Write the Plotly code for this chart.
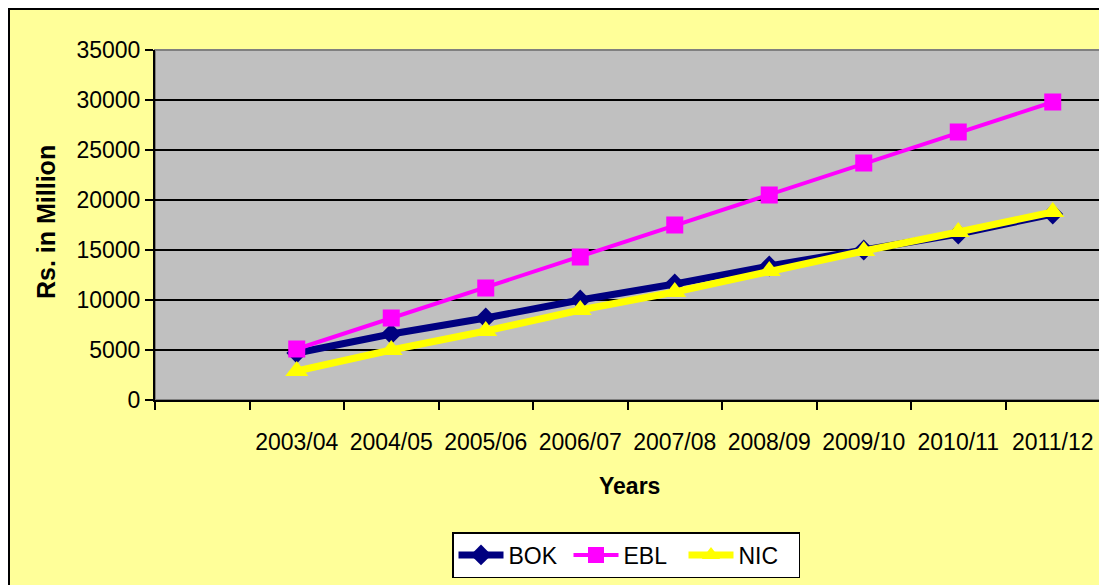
import plotly.graph_objects as go

categories = [" ", "2003/04", "2004/05", "2005/06", "2006/07", "2007/08",
              "2008/09", "2009/10", "2010/11", "2011/12"]
years = ["2003/04", "2004/05", "2005/06", "2006/07", "2007/08",
         "2008/09", "2009/10", "2010/11", "2011/12"]
bok = [4700, 6600, 8200, 10000, 11600, 13400, 15000, 16600, 18600]
ebl = [5100, 8200, 11200, 14300, 17500, 20500, 23700, 26800, 29800]
nic = [2900, 5000, 6900, 9000, 10800, 12900, 14900, 16800, 18800]

FONT = "Liberation Sans, Arial, sans-serif"
OFF = 8  # page body margin
W, H = 1107 - OFF, 585 - OFF
L, R, T, B = 155 - OFF, 7, 50 - OFF, 185
PW, PH = W - L - R, H - T - B


def xp(px):
    # px given in page coordinates
    return (px - OFF - L) / PW


def yp(py):
    return (H - B - (py - OFF)) / PH


fig = go.Figure()
fig.add_trace(go.Scatter(
    x=years, y=bok, name="BOK", mode="lines+markers",
    line=dict(color="#000080", width=7),
    marker=dict(symbol="diamond", size=16, color="#000080")))
fig.add_trace(go.Scatter(
    x=years, y=ebl, name="EBL", mode="lines+markers",
    line=dict(color="#FF00FF", width=4),
    marker=dict(symbol="square", size=17, color="#FF00FF")))
fig.add_trace(go.Scatter(
    x=years, y=nic, name="NIC", mode="lines+markers",
    line=dict(color="#FFFF00", width=7),
    marker=dict(symbol="triangle-up", size=20, color="#FFFF00")))

shapes = [
    dict(type="rect", xref="x domain", yref="y domain", x0=0, x1=1, y0=0, y1=1,
         line=dict(color="#808080", width=2), fillcolor="rgba(0,0,0,0)", layer="below"),
    dict(type="rect", xref="paper", yref="paper",
         x0=xp(9), x1=xp(1120), y0=yp(600), y1=yp(9),
         line=dict(color="black", width=2), fillcolor="rgba(0,0,0,0)", layer="above"),
]

annotations = [
    dict(text="<b>Years</b>", xref="paper", yref="paper", x=xp(629), y=yp(486),
         showarrow=False, font=dict(family=FONT, size=23, color="black"),
         xanchor="center", yanchor="middle"),
    dict(text="<b>Rs. in Million</b>", xref="paper", yref="paper", x=xp(46), y=yp(222),
         showarrow=False, textangle=-90, font=dict(family=FONT, size=25, color="black"),
         xanchor="center", yanchor="middle"),
]

fig.update_layout(
    width=W, height=H,
    margin=dict(l=L, r=R, t=T, b=B),
    paper_bgcolor="#FFFF99",
    plot_bgcolor="#C0C0C0",
    font=dict(family=FONT, size=23, color="black"),
    showlegend=True,
    legend=dict(orientation="h", x=xp(626), y=yp(532), xanchor="center", yanchor="top",
                bgcolor="white", bordercolor="black", borderwidth=1.5,
                font=dict(family=FONT, size=23, color="black"),
                itemwidth=45, entrywidth=55, tracegroupgap=0),
    shapes=shapes,
    annotations=annotations,
    xaxis=dict(type="category", categoryorder="array", categoryarray=categories,
               tickvals=categories, ticktext=categories,
               range=[-0.5, 9.5], tickson="boundaries", ticks="outside", ticklen=8,
               tickwidth=1.5, tickcolor="black", showgrid=False, showline=True,
               linecolor="black", linewidth=2, ticklabelstandoff=20,
               tickfont=dict(family=FONT, size=23, color="black"), zeroline=False),
    yaxis=dict(range=[0, 35000], dtick=5000, tickformat="d", ticks="outside", ticklen=8,
               tickwidth=1.5, tickcolor="black", showgrid=True, gridcolor="black",
               gridwidth=2, showline=True, linecolor="black", linewidth=2,
               zeroline=False, tickfont=dict(family=FONT, size=23, color="black")),
)

fig.write_html("out.html")
